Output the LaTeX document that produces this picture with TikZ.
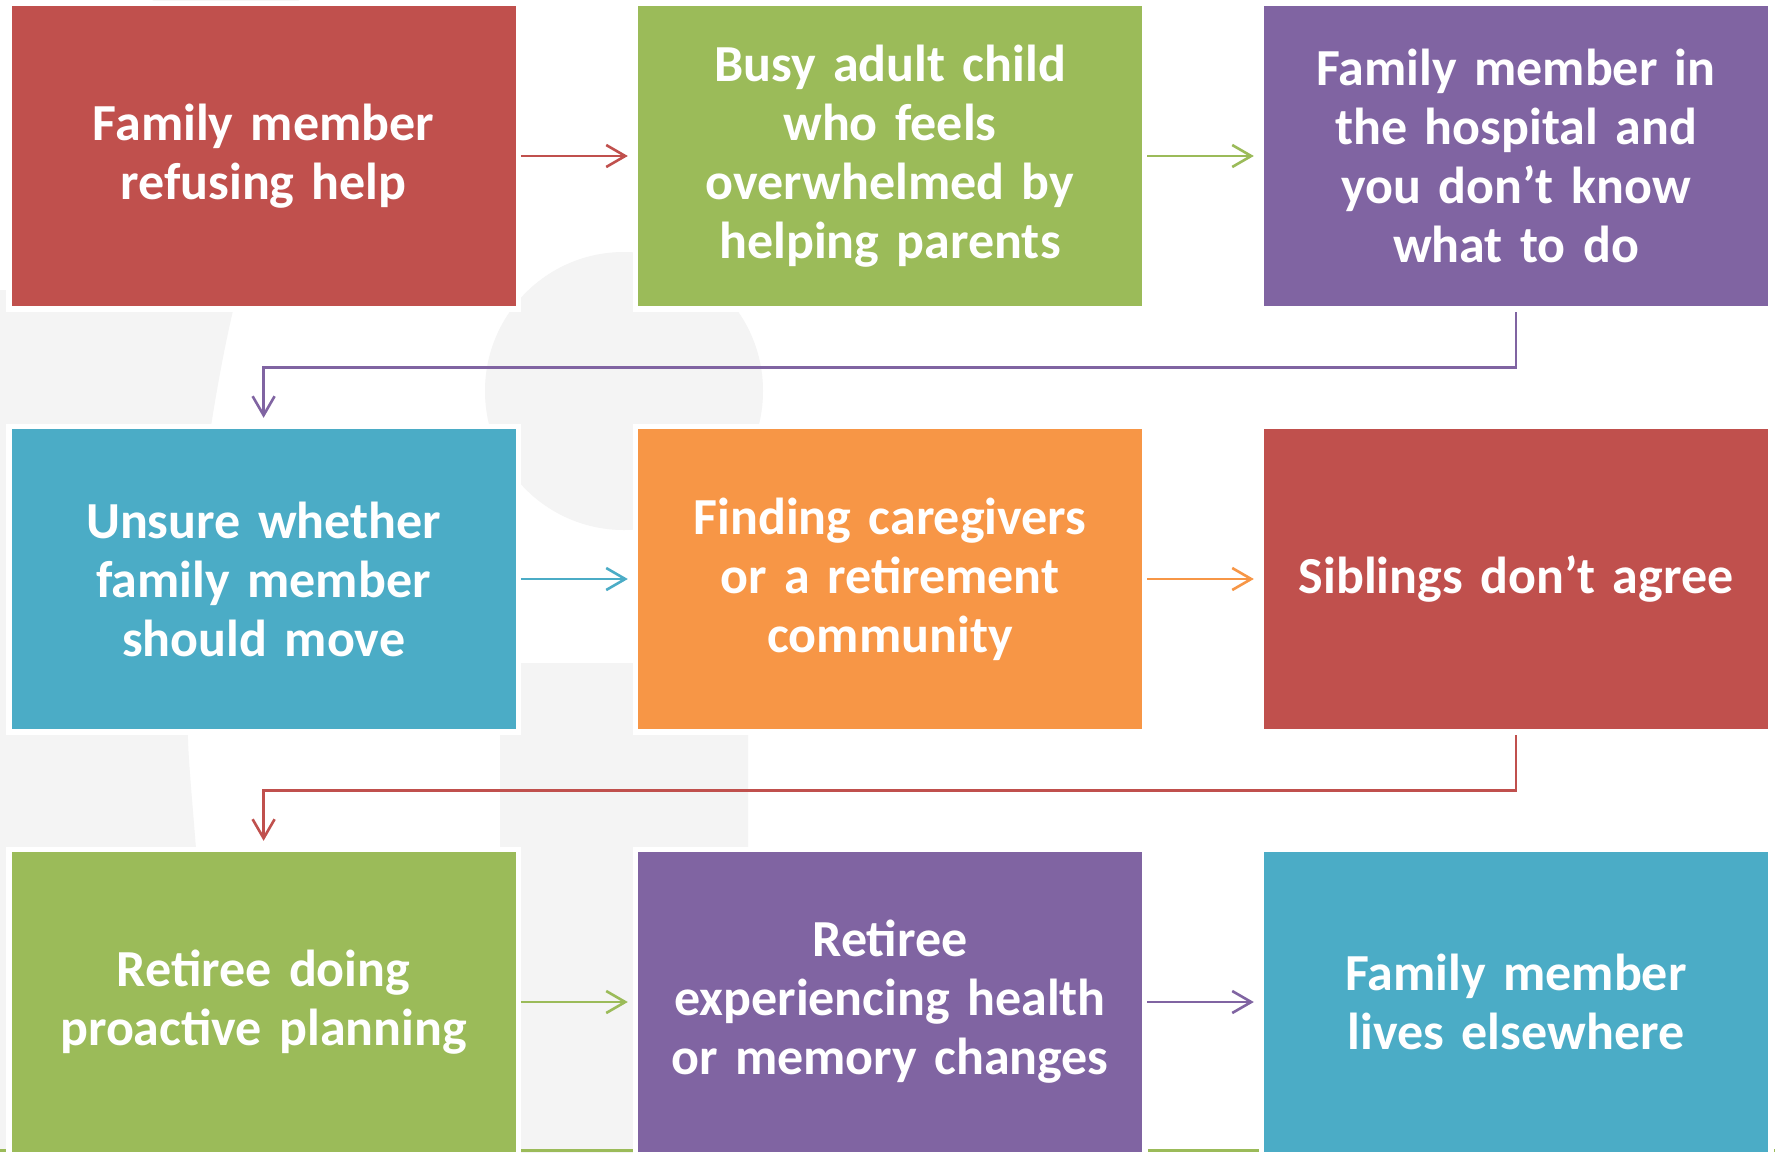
\documentclass[tikz,border=0pt]{standalone}
\usepackage{fontspec}
\setmainfont{Carlito}
\usetikzlibrary{arrows.meta}
\definecolor{cred}{HTML}{C0504D}
\definecolor{cgreen}{HTML}{9BBB59}
\definecolor{cpurple}{HTML}{8064A2}
\definecolor{cblue}{HTML}{4BACC6}
\definecolor{corange}{HTML}{F79646}
\definecolor{bggray}{HTML}{F4F4F4}
\tikzset{
  card/.style={fill=#1, preaction={draw=white, line width=11pt, rounded corners=4pt},
    minimum width=504pt, minimum height=300pt, inner sep=0pt, text=white,
    font=\fontsize{52}{59}\selectfont\bfseries, align=center, text width=490pt},
  flow/.style={draw=#1, line width=2.6pt, -{Straight Barb[length=19pt,width=22pt]}},
  silhouette/.style={fill=bggray, draw=none},
}
\begin{document}
\begin{tikzpicture}[x=1pt, y=-1pt]
\useasboundingbox (0,0) rectangle (1775,1152);
\clip (0,0) rectangle (1775,1152);
\fill[white] (0,0) rectangle (1775,1152);
% background silhouettes
\fill[silhouette] (226,120) circle[radius=140];
\fill[silhouette] (0,290) -- (238,290) .. controls (215,380) and (185,560) .. (188,740)
   .. controls (190,800) and (205,900) .. (210,1152) -- (0,1152) -- cycle;
\fill[silhouette] (624,391) circle[radius=139];
\fill[silhouette, rounded corners=20pt] (500,1160) -- (500,663) -- (748,663) -- (748,1160);
\fill[cgreen] (0,1149) rectangle (1775,1152);
% boxes
\node[card=cred]    (b1) at (263.6,156) {Family member\\refusing help};
\node[card=cgreen]  (b2) at (890,156)   {Busy adult child\\who feels\\overwhelmed by\\helping parents};
\node[card=cpurple] (b3) at (1516,156)  {Family member in\\the hospital and\\you don’t know\\what to do};
\node[card=cblue]   (b4) at (263.6,579) {Unsure whether\\family member\\should move};
\node[card=corange] (b5) at (890,579)   {Finding caregivers\\or a retirement\\community};
\node[card=cred]    (b6) at (1516,579)  {Siblings don’t agree};
\node[card=cgreen]  (b7) at (263.6,1002){Retiree doing\\proactive planning};
\node[card=cpurple] (b8) at (890,1002)  {Retiree\\experiencing health\\or memory changes};
\node[card=cblue]   (b9) at (1516,1002) {Family member\\lives elsewhere};
% connectors
\draw[flow=cred]    ([xshift=5pt]b1.east) -- ([xshift=-10pt]b2.west);
\draw[flow=cgreen]  ([xshift=5pt]b2.east) -- ([xshift=-10pt]b3.west);
\draw[flow=cblue]   ([xshift=5pt]b4.east) -- ([xshift=-10pt]b5.west);
\draw[flow=corange] ([xshift=5pt]b5.east) -- ([xshift=-10pt]b6.west);
\draw[flow=cgreen]  ([xshift=5pt]b7.east) -- ([xshift=-10pt]b8.west);
\draw[flow=cpurple] ([xshift=5pt]b8.east) -- ([xshift=-10pt]b9.west);
\draw[flow=cpurple] ([yshift=-6pt]b3.south) -- ++(0,55) -| ([yshift=11pt]b4.north);
\draw[flow=cred]    ([yshift=-6pt]b6.south) -- ++(0,55) -| ([yshift=11pt]b7.north);
\end{tikzpicture}
\end{document}
